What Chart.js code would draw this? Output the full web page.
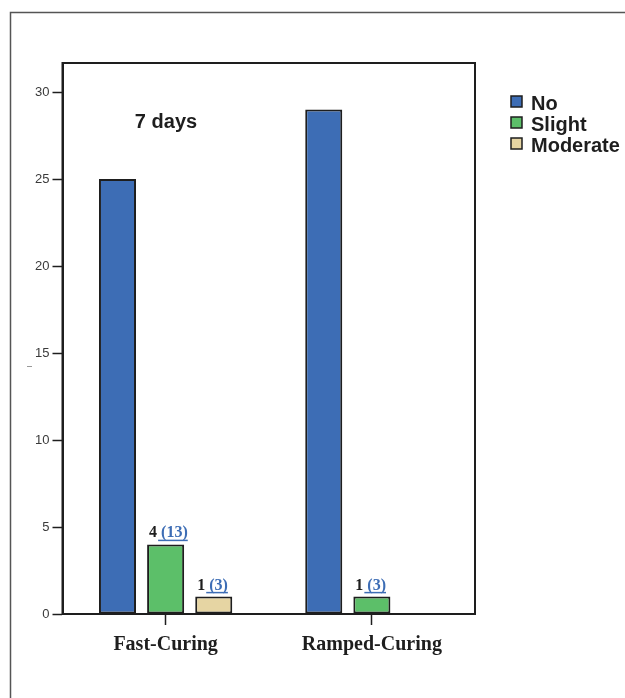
<!DOCTYPE html>
<html>
<head>
<meta charset="utf-8">
<script src="https://cdn.jsdelivr.net/npm/chart.js@4/dist/chart.umd.min.js"></script>
<style>
  html, body { margin: 0; padding: 0; background: #fff; }
  #wrap { width: 625px; height: 698px; }
</style>
</head>
<body>
<div id="wrap"><canvas id="chart" width="625" height="698"></canvas></div>
<script>
// data
const categories = ['Fast-Curing', 'Ramped-Curing'];
const seriesNames = ['No', 'Slight', 'Moderate'];
const noValues = [25, 29];
const slightValues = [4, 1];
const moderateValues = [1, 0];
// percentages printed next to the counts
const slightPct = ['13', '3'];
const moderatePct = ['3', null];
const yTicks = [0, 5, 10, 15, 20, 25, 30];
const panelTitle = '7 days';

const colors = ['#3d6db5', '#5cbf69', '#e6d5a3'];
const ink = '#1e1e1e';

// outer frame, box round the plot, panel title and stray dash
const framePlugin = {
    id: 'frame',
    beforeDraw(chart) {
        const c = chart.ctx;
        c.save();
        c.strokeStyle = '#555';
        c.lineWidth = 1.5;
        c.beginPath();
        c.moveTo(10.5, 698);
        c.lineTo(10.5, 12.5);
        c.lineTo(625, 12.5);
        c.stroke();
        c.restore();
    },
    afterDraw(chart) {
        const c = chart.ctx;
        const a = chart.chartArea;
        c.save();
        c.strokeStyle = ink;
        c.lineWidth = 2;
        c.strokeRect(a.left, a.top, a.right - a.left, a.bottom - a.top);

        c.fillStyle = ink;
        c.font = 'bold 20px "Liberation Sans", Arial, sans-serif';
        c.textAlign = 'center';
        c.textBaseline = 'alphabetic';
        c.fillText(panelTitle, 166, 128);

        c.strokeStyle = '#999';
        c.lineWidth = 1;
        c.beginPath();
        c.moveTo(27, 366.5);
        c.lineTo(32, 366.5);
        c.stroke();
        c.restore();
    }
};

// "n (pct)" over the Slight and Moderate bars
const countPlugin = {
    id: 'counts',
    afterDatasetsDraw(chart) {
        const c = chart.ctx;
        const pctSets = [null, slightPct, moderatePct];
        c.save();
        c.font = 'bold 16px "Liberation Serif", "Times New Roman", serif';
        c.textBaseline = 'alphabetic';
        c.textAlign = 'left';
        chart.data.datasets.forEach((ds, di) => {
            if (!pctSets[di]) return;
            chart.getDatasetMeta(di).data.forEach((bar, i) => {
                const v = ds.data[i];
                const pct = pctSets[di][i];
                if (!v || !pct) return;
                const x = bar.x - bar.width / 2 + 2;
                const y = bar.y - 7;
                const n = String(v);
                c.fillStyle = ink;
                c.fillText(n, x, y);
                const nw = c.measureText(n).width;
                const p = ' (' + pct + ')';
                const pw = c.measureText(p).width;
                c.fillStyle = '#3d6db5';
                c.fillText(p, x + nw, y);
                c.strokeStyle = '#3d6db5';
                c.lineWidth = 1.5;
                c.beginPath();
                c.moveTo(x + nw + 1, y + 3);
                c.lineTo(x + nw + pw, y + 3);
                c.stroke();
            });
        });
        c.restore();
    }
};

// legend at the right
const legendPlugin = {
    id: 'sideLegend',
    afterDraw(chart) {
        const c = chart.ctx;
        c.save();
        c.font = 'bold 20px "Liberation Sans", Arial, sans-serif';
        c.textBaseline = 'alphabetic';
        c.textAlign = 'left';
        chart.data.datasets.forEach((ds, i) => {
            const top = 96 + i * 21;
            c.fillStyle = ds.backgroundColor;
            c.fillRect(511, top, 11, 11);
            c.strokeStyle = ink;
            c.lineWidth = 1.5;
            c.strokeRect(511, top, 11, 11);
            c.fillStyle = ink;
            c.fillText(ds.label, 531, top + 14);
        });
        c.restore();
    }
};

new Chart(document.getElementById('chart'), {
    type: 'bar',
    data: {
        labels: categories,
        datasets: [noValues, slightValues, moderateValues].map((vals, i) => ({
            label: seriesNames[i],
            data: vals,
            backgroundColor: colors[i],
            borderColor: ink,
            borderWidth: 2,
            borderSkipped: false,
            categoryPercentage: 0.7,
            barPercentage: 0.77
        }))
    },
    options: {
        responsive: false,
        animation: false,
        layout: { padding: { top: 63, right: 150, left: 0, bottom: 0 } },
        plugins: {
            legend: { display: false },
            tooltip: { enabled: false }
        },
        scales: {
            x: {
                offset: true,
                grid: {
                    offset: false,
                    drawOnChartArea: false,
                    drawTicks: true,
                    tickLength: 11,
                    tickColor: ink,
                    tickWidth: 1.5
                },
                border: { display: true, color: ink, width: 2 },
                ticks: {
                    color: ink,
                    padding: 8,
                    font: { family: '"Liberation Serif", "Times New Roman", serif', size: 20, weight: 'bold' }
                },
                afterFit(scale) { scale.height = 84; }
            },
            y: {
                min: 0,
                max: 31.67,
                afterBuildTicks(scale) {
                    scale.ticks = yTicks.map(v => ({ value: v }));
                },
                grid: {
                    drawOnChartArea: false,
                    drawTicks: true,
                    tickLength: 10,
                    tickColor: ink,
                    tickWidth: 1.5
                },
                border: { display: true, color: ink, width: 2 },
                ticks: {
                    color: '#3a3a3a',
                    padding: 3,
                    font: { family: '"Liberation Sans", Arial, sans-serif', size: 13 }
                },
                afterFit(scale) { scale.width = 62.5; }
            }
        }
    },
    plugins: [framePlugin, countPlugin, legendPlugin]
});
</script>
</body>
</html>
